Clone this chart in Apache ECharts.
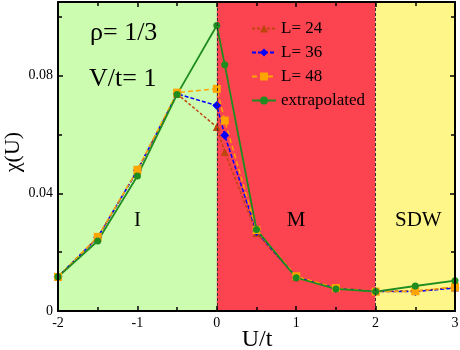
<!DOCTYPE html>
<html>
<head>
<meta charset="utf-8">
<script src="https://cdn.jsdelivr.net/npm/echarts@6/dist/echarts.min.js"></script>
<style>
  html, body { margin: 0; padding: 0; background: #fff; }
  #chart { width: 460px; height: 350px; }
</style>
</head>
<body>
<div id="chart"></div>
<script>
// U/t values
const uValues = [-2, -1.5, -1, -0.5, 0, 0.1, 0.5, 1, 1.5, 2, 2.5, 3];

// chi(U) for each lattice size
const chiL24 = [0.0116, 0.0250, 0.0478, 0.0738, 0.0625, 0.0540, 0.0265, 0.0115, 0.0078, 0.0067, 0.0068, 0.0080];
const chiL36 = [0.0116, 0.0250, 0.0478, 0.0738, 0.0698, 0.0597, 0.0270, 0.0115, 0.0077, 0.0066, 0.0066, 0.0078];
const chiL48 = [0.0116, 0.0252, 0.0480, 0.0742, 0.0755, 0.0647, 0.0275, 0.0118, 0.0078, 0.0066, 0.0067, 0.0082];
const chiExtrap = [0.0116, 0.0238, 0.0459, 0.0736, 0.0970, 0.0837, 0.0277, 0.0113, 0.0075, 0.0066, 0.0085, 0.0103];

// phase regions
const phases = [
  { name: "I", from: -2, to: 0, color: "#ccfcb0" },
  { name: "M", from: 0, to: 2, color: "#fc4450" },
  { name: "SDW", from: 2, to: 3, color: "#fff68a" }
];

const pairs = (ys) => uValues.map((u, i) => [u, ys[i]]);

const serifFont = "Liberation Serif";

// shared look for the framing axes
const frameLine = { show: true, onZero: false, lineStyle: { color: "#000", width: 2 } };
const frameTick = { show: true, inside: true, length: 5, lineStyle: { color: "#000", width: 1.5 } };
const frameMinor = { show: true, splitNumber: 2, length: 4, lineStyle: { color: "#000", width: 1.5 } };

const chart = echarts.init(document.getElementById("chart"));

chart.setOption({
  animation: false,
  grid: { left: 58, right: 5, top: 2, bottom: 39, outerBoundsMode: "none" },
  legend: {
    orient: "vertical",
    left: 246,
    top: 15,
    itemGap: 7,
    itemWidth: 24,
    itemHeight: 10,
    textStyle: { fontFamily: serifFont, fontSize: 17, color: "#000" },
    data: ["L= 24", "L= 36", "L= 48", "extrapolated"]
  },
  xAxis: [
    {
      type: "value",
      min: -2,
      max: 3,
      interval: 1,
      axisLine: frameLine,
      axisTick: frameTick,
      minorTick: frameMinor,
      axisLabel: { fontFamily: serifFont, fontSize: 14, color: "#000", margin: 5 },
      splitLine: { show: false },
      z: 10
    },
    {
      type: "value",
      position: "top",
      min: -2,
      max: 3,
      interval: 1,
      axisLine: frameLine,
      axisTick: frameTick,
      minorTick: frameMinor,
      axisLabel: { show: false },
      splitLine: { show: false },
      z: 10
    }
  ],
  yAxis: [
    {
      type: "value",
      min: 0,
      max: 0.105,
      interval: 0.04,
      axisLine: frameLine,
      axisTick: frameTick,
      minorTick: frameMinor,
      axisLabel: { fontFamily: serifFont, fontSize: 14, color: "#000", margin: 5, showMaxLabel: false },
      splitLine: { show: false },
      z: 10
    },
    {
      type: "value",
      position: "right",
      min: 0,
      max: 0.105,
      interval: 0.04,
      axisLine: frameLine,
      axisTick: frameTick,
      minorTick: frameMinor,
      axisLabel: { show: false },
      splitLine: { show: false },
      z: 10
    }
  ],
  graphic: [
    { type: "text", left: 90, top: 20, z: 100, style: { text: "ρ= 1/3", font: "26px " + serifFont, fill: "#000" } },
    { type: "text", left: 89, top: 66, z: 100, style: { text: "V/t= 1", font: "26px " + serifFont, fill: "#000" } },
    // axis titles
    {
      type: "text", x: 257, y: 340, z: 100,
      style: { text: "U/t", font: "24px " + serifFont, fill: "#000", align: "center", verticalAlign: "middle" }
    },
    {
      type: "text", x: 13, y: 152, rotation: Math.PI / 2, z: 100,
      style: { text: "χ(U)", font: "22px " + serifFont, fill: "#000", align: "center", verticalAlign: "middle" }
    }
  ],
  series: [
    {
      name: "phases",
      type: "line",
      data: [],
      silent: true,
      z: 0,
      markArea: {
        silent: true,
        data: phases.map((p) => [
          {
            xAxis: p.from,
            yAxis: 0,
            itemStyle: { color: p.color },
            label: {
              show: true,
              position: "inside",
              formatter: p.name,
              fontFamily: serifFont,
              fontSize: 21,
              color: "#000",
              offset: [p.name === "SDW" ? 3 : 0, 64]
            }
          },
          { xAxis: p.to, yAxis: 0.105 }
        ])
      },
      markLine: {
        silent: true,
        symbol: "none",
        label: { show: false },
        lineStyle: { color: "#333", type: [3, 2], width: 1 },
        data: [{ xAxis: 0 }, { xAxis: 2 }]
      }
    },
    {
      name: "L= 24",
      type: "line",
      data: pairs(chiL24),
      symbol: "triangle",
      symbolSize: 8,
      color: "#c0440e",
      lineStyle: { type: [3, 2], width: 1.5 }
    },
    {
      name: "L= 36",
      type: "line",
      data: pairs(chiL36),
      symbol: "diamond",
      symbolSize: 9,
      color: "#0000ff",
      lineStyle: { type: [4, 2], width: 1.5 }
    },
    {
      name: "L= 48",
      type: "line",
      data: pairs(chiL48),
      symbol: "rect",
      symbolSize: 8,
      color: "#ffa500",
      lineStyle: { type: [5, 3], width: 1.5 }
    },
    {
      name: "extrapolated",
      type: "line",
      data: pairs(chiExtrap),
      symbol: "circle",
      symbolSize: 7,
      color: "#1e8c1e",
      lineStyle: { width: 1.8 }
    }
  ]
});
</script>
</body>
</html>
